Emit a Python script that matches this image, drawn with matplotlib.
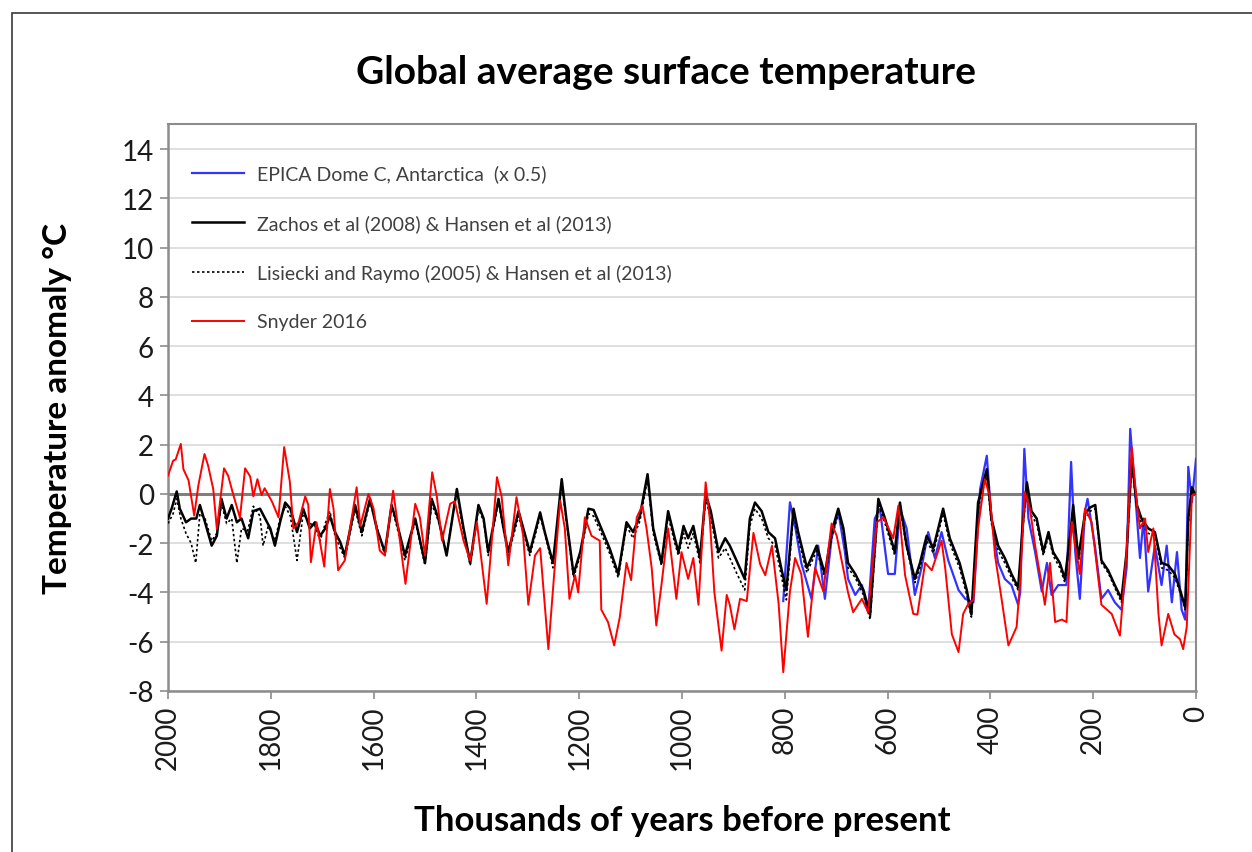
import matplotlib
matplotlib.use("Agg")
import matplotlib.pyplot as plt
from matplotlib.patches import Rectangle

plt.rcParams['font.family'] = ['Lato', 'DejaVu Sans']

# ---------------- data (kyr before present, temperature anomaly °C) ----------------
snyder_age = [2000, 1990, 1985, 1975, 1970, 1960, 1949, 1941, 1929, 1922, 1912, 1905, 1891, 1883,
              1873, 1860, 1850, 1840, 1834, 1826, 1818, 1812, 1798, 1785, 1774, 1763, 1756, 1746,
              1733, 1727, 1722, 1711, 1696, 1685, 1678, 1669, 1656, 1633, 1626, 1610, 1600, 1588,
              1578, 1562, 1552, 1538, 1519, 1510, 1500, 1486, 1477, 1467, 1451, 1442, 1425, 1412,
              1399, 1380, 1360, 1351, 1338, 1322, 1309, 1299, 1286, 1276, 1260, 1247, 1237, 1228,
              1219, 1208, 1202, 1189, 1176, 1160, 1157, 1144, 1132, 1121, 1108, 1099, 1088, 1077,
              1069, 1059, 1050, 1040, 1027, 1011, 1001, 988, 978, 968, 954, 946, 937, 923, 913,
              907, 898, 887, 874, 861, 848, 838, 825, 812, 803, 790, 780, 768, 755, 741, 725, 709,
              699, 677, 667, 650, 638, 621, 608, 589, 579, 566, 550, 542, 527, 514, 495, 488, 475,
              462, 453, 443, 433, 424, 411, 401, 391, 378, 365, 349, 342, 333, 323, 313, 300, 294,
              284, 274, 261, 252, 242, 235, 226, 216, 203, 184, 164, 148, 135, 125, 115, 109, 99,
              93, 83, 73, 67, 54, 42, 31, 25, 18, 8, 2]
snyder_val = [0.74, 1.35, 1.4, 2.03, 1.0, 0.55, -0.88, 0.34, 1.62, 1.15, 0.2, -1.42, 1.04, 0.74,
              -0.03, -0.97, 1.04, 0.7, -0.1, 0.6, -0.05, 0.23, -0.3, -0.95, 1.9, 0.5, -1.4, -1.15,
              -0.1, -0.45, -2.77, -1.15, -2.95, 0.2, -0.6, -3.1, -2.7, 0.27, -1.3, 0.0, -0.6, -2.3,
              -2.5, 0.13, -1.4, -3.65, -0.4, -0.95, -2.5, 0.88, -0.1, -1.9, -0.4, -0.3, -1.9, -2.7,
              -1.15, -4.46, 0.68, -0.1, -2.9, -0.13, -1.7, -4.5, -2.5, -2.2, -6.3, -2.8, -0.27, -1.4,
              -4.26, -3.3, -4.0, -0.95, -1.7, -1.9, -4.7, -5.2, -6.15, -5.0, -2.8, -3.5, -0.95, -0.47,
              -1.4, -3.0, -5.34, -3.7, -1.4, -4.26, -2.36, -3.45, -2.6, -4.5, 0.47, -1.0, -4.0, -6.36, -4.1,
              -4.5, -5.5, -4.26, -4.35, -1.58, -2.85, -3.3, -2.1, -4.46, -7.24, -3.96, -2.6, -3.25, -5.8, -3.0, -3.96, -1.2,
              -1.7, -4.0, -4.8, -4.26, -4.8, -1.15, -0.95, -1.8, -0.47, -3.3, -4.87, -4.9, -2.8, -3.1, -1.9, -3.0, -5.7,
              -6.42, -4.87, -4.46, -4.3, -1.4, 0.6, -0.1, -2.5, -4.3, -6.15, -5.4, -3.5, 0.07, -0.6, -2.1, -3.7, -4.5,
              -2.8, -5.2, -5.1, -5.2, -1.15, -2.1, -3.25, -0.6, -1.15, -4.5, -4.87, -5.75, -2.36, 1.9, -0.4, -1.4, -1.0,
              -2.36, -1.4, -4.87, -6.15, -4.87, -5.7, -5.9, -6.3, -5.4, -0.07, 0.0]

zachos_age = [2000, 1993, 1983, 1977, 1965, 1955, 1945, 1938, 1928, 1915, 1905, 1896, 1886, 1876,
              1866, 1857, 1844, 1834, 1821, 1811, 1801, 1792, 1782, 1772, 1762, 1749, 1737, 1724,
              1714, 1704, 1694, 1685, 1675, 1665, 1656, 1636, 1623, 1607, 1594, 1578, 1565, 1555,
              1539, 1519, 1500, 1487, 1474, 1458, 1438, 1425, 1412, 1396, 1386, 1377, 1357, 1348,
              1338, 1318, 1296, 1276, 1267, 1251, 1234, 1225, 1211, 1198, 1182, 1172, 1157, 1141,
              1124, 1108, 1095, 1082, 1067, 1056, 1040, 1027, 1014, 1007, 997, 988, 978, 965, 954,
              944, 929, 916, 907, 894, 878, 868, 858, 845, 832, 819, 806, 797, 783, 774, 757, 738,
              722, 709, 696, 686, 677, 663, 647, 634, 618, 605, 586, 576, 563, 547, 537, 524, 511,
              492, 479, 460, 446, 437, 424, 407, 398, 385, 372, 359, 346, 336, 329, 320, 310, 297,
              287, 278, 265, 255, 245, 239, 229, 216, 206, 196, 184, 171, 158, 145, 135, 125, 115,
              106, 93, 80, 67, 54, 41, 31, 21, 15, 8, 2]
zachos_val = [-1.0, -0.6, 0.1, -0.6, -1.15, -1.0, -1.0, -0.45, -1.15, -2.1, -1.7, -0.2, -1.0, -0.45,
              -1.15, -1.0, -1.8, -0.7, -0.6, -1.0, -1.4, -2.1, -1.15, -0.35, -0.6, -1.55, -0.6, -1.4,
              -1.15, -1.7, -1.4, -0.9, -1.55, -1.95, -2.5, -0.45, -1.55, -0.2, -1.4, -2.36, -0.45, -1.15,
              -2.5, -1.0, -2.8, -0.2, -1.0, -2.5, 0.2, -1.4, -2.8, -0.45, -1.0, -2.36, -0.2, -1.3,
              -2.36, -0.7, -2.36, -0.75, -1.55, -2.8, 0.6, -1.0, -3.25, -2.36, -0.6, -0.65, -1.4, -2.2,
              -3.25, -1.15, -1.55, -0.9, 0.8, -1.4, -2.8, -0.7, -1.8, -2.36, -1.3, -1.8, -1.3, -2.6, 0.0,
              -0.7, -2.36, -1.8, -2.1, -2.7, -3.45, -1.0, -0.35, -0.7, -1.55, -1.8, -3.1, -3.9, -0.6, -1.55, -3.0, -2.1,
              -3.25, -1.55, -0.6, -1.4, -2.8, -3.25, -3.9, -4.9, -0.2, -1.0, -2.36, -0.35, -2.1, -3.45, -2.8, -1.7, -2.2,
              -0.6, -1.8, -2.8, -3.9, -4.9, -0.35, 1.0, -1.0, -2.1, -2.6, -3.25, -3.8, -1.0, 0.47, -0.7, -1.0, -2.36,
              -1.55, -2.36, -2.8, -3.45, -1.7, -0.45, -2.6, -0.8, -0.55, -0.45, -2.7, -3.1, -3.7, -4.26, -2.36, 1.42, -0.45,
              -1.0, -1.4, -1.55, -2.8, -2.9, -3.25, -3.9, -4.6, -1.0, 0.27, 0.0]

lisiecki_age = [2000, 1990, 1983, 1975, 1965, 1955, 1946, 1938, 1928, 1915, 1905, 1896, 1886, 1876,
                1866, 1857, 1845, 1834, 1821, 1815, 1805, 1792, 1782, 1772, 1762, 1749, 1737, 1724,
                1714, 1704, 1694, 1685, 1675, 1665, 1656, 1636, 1623, 1607, 1594, 1578, 1565, 1555,
                1539, 1519, 1500, 1487, 1474, 1458, 1438, 1425, 1412, 1396, 1386, 1377, 1357, 1348,
                1338, 1318, 1296, 1276, 1267, 1251, 1234, 1225, 1211, 1198, 1182, 1172, 1157, 1141,
                1124, 1108, 1095, 1082, 1067, 1056, 1040, 1027, 1014, 1007, 997, 988, 978, 965, 954,
                944, 929, 916, 907, 894, 878, 868, 858, 845, 832, 819, 806, 797, 783, 774, 757, 738,
                722, 709, 696, 686, 677, 663, 647, 634, 618, 605, 586, 576, 563, 547, 537, 524, 511,
                492, 479, 460, 446, 437, 424, 407, 398, 385, 372, 359, 346, 336, 329, 320, 310, 297,
                287, 278, 265, 255, 245, 239, 229, 216, 206, 196, 184, 171, 158, 145, 135, 125, 115,
                106, 93, 80, 67, 54, 41, 31, 21, 15, 8, 0]
lisiecki_val = [-1.2, -0.8, -0.2, -1.0, -1.6, -2.0, -2.8, -0.8, -1.0, -1.9, -1.6, -0.4, -1.2, -1.0,
                -2.8, -1.4, -1.5, -0.5, -0.9, -2.1, -1.3, -1.9, -1.0, -0.5, -0.9, -2.7, -0.8, -1.2,
                -1.3, -1.9, -1.2, -0.7, -1.7, -2.2, -2.6, -0.6, -1.7, -0.3, -1.3, -2.5, -0.5, -1.3,
                -2.7, -1.1, -2.9, -0.4, -1.1, -2.4, 0.1, -1.6, -2.9, -0.6, -1.1, -2.5, -0.3, -1.4,
                -2.5, -0.9, -2.5, -0.9, -1.6, -3.0, 0.4, -1.1, -3.4, -2.5, -0.8, -0.9, -1.6, -2.4,
                -3.4, -1.3, -1.8, -1.1, 0.6, -1.6, -2.9, -0.9, -2.0, -2.5, -1.6, -2.2, -1.6, -2.8, -0.2,
                -1.0, -2.6, -2.2, -2.6, -3.2, -3.9, -1.3, -0.6, -1.0, -1.8, -2.1, -3.4, -4.3, -0.8, -1.8, -3.2, -2.3,
                -3.4, -1.8, -0.8, -1.5, -3.0, -3.4, -4.1, -5.1, -0.4, -1.2, -2.5, -0.5, -2.2, -3.6, -3.0, -1.9, -2.4,
                -0.8, -2.0, -3.0, -4.1, -5.0, -0.6, 0.8, -1.2, -2.3, -2.8, -3.4, -3.9, -1.2, 0.3, -0.9, -1.2, -2.5,
                -1.7, -2.5, -3.0, -3.6, -1.9, -0.6, -2.8, -1.0, -0.7, -0.6, -2.8, -3.2, -3.8, -4.4, -2.5, 1.2, -0.6,
                -1.2, -1.6, -1.7, -3.0, -3.1, -3.4, -4.0, -4.7, -1.2, 0.1, 0.0]

epica_age = [803, 790, 780, 768, 748, 735, 722, 709, 696, 683, 677, 663, 650, 638, 625, 615, 599,
             586, 576, 563, 547, 534, 521, 508, 495, 482, 462, 449, 433, 420, 407, 398, 385, 372,
             359, 346, 342, 334, 326, 313, 300, 290, 281, 268, 252, 243, 235, 226, 216, 211, 196,
             184, 171, 158, 145, 135, 128, 119, 109, 102, 93, 80, 67, 57, 47, 37, 28, 21, 15, 8, 0]
epica_val = [-4.35, -0.34, -1.3, -2.8, -4.26, -2.1, -4.26, -1.8, -0.7, -2.36, -3.45, -4.1, -3.7,
             -4.8, -1.0, -0.6, -3.25, -3.25, -0.6, -1.4, -4.1, -3.0, -1.55, -2.6, -1.55, -2.7, -3.9,
             -4.26, -4.4, 0.2, 1.55, -1.0, -2.8, -3.45, -3.7, -4.5, -4.0, 1.83, -1.0, -2.36, -3.96,
             -2.8, -4.1, -3.7, -3.7, 1.3, -2.36, -4.26, -0.7, -0.2, -2.2, -4.26, -3.9, -4.4, -4.7,
             -3.0, 2.64, 0.2, -2.6, -1.0, -3.96, -2.1, -3.7, -2.1, -4.4, -2.36, -4.7, -5.1, 1.1,
             -0.34, 1.42]

xticks = [2000, 1800, 1600, 1400, 1200, 1000, 800, 600, 400, 200, 0]
yticks = [-8, -6, -4, -2, 0, 2, 4, 6, 8, 10, 12, 14]

# ---------------- figure ----------------
W, H = 1252, 853
fig = plt.figure(figsize=(W / 100, H / 100), dpi=100)
fig.patch.set_facecolor('white')
fig.patches.append(Rectangle((12 / W, -0.05), 1.1, 1 - 14 / H + 0.05, transform=fig.transFigure,
                             fill=False, edgecolor='#3a3a3a', linewidth=1.2))

ax = fig.add_axes([168 / W, 1 - 692 / H, (1196 - 168) / W, (692 - 125.4) / H])

ax.plot(epica_age, epica_val, color='#3333ff', lw=1.6, label='EPICA Dome C, Antarctica  (x 0.5)', zorder=3)
ax.plot(zachos_age, zachos_val, color='black', lw=1.8, label='Zachos et al (2008) & Hansen et al (2013)', zorder=4)
ax.plot(lisiecki_age, lisiecki_val, color='black', lw=1.2, ls=(0, (1.5, 1.5)),
        label='Lisiecki and Raymo (2005) & Hansen et al (2013)', zorder=4)
ax.plot(snyder_age, snyder_val, color='#ff0000', lw=1.4, label='Snyder 2016', zorder=5)

ax.axhline(0, color='#7f7f7f', lw=2.2, zorder=2)

ax.set_xlim(2000, 0)
ax.set_ylim(-8, 15)
ax.set_xticks(xticks)
ax.set_yticks(yticks)
ax.set_xticklabels([str(t) for t in xticks], rotation=90, fontsize=20, color='#1a1a1a')
ax.set_yticklabels([str(t) for t in yticks], fontsize=20, color='#1a1a1a')
ax.grid(axis='y', color='#d9d9d9', lw=1.2, zorder=0)
ax.set_axisbelow(True)
ax.tick_params(axis='both', direction='out', length=6, width=1.2, color='#8c8c8c', pad=4)

for side in ['left', 'bottom']:
    ax.spines[side].set_color('#8c8c8c')
    ax.spines[side].set_linewidth(1.8)
for side in ['top', 'right']:
    ax.spines[side].set_color('#8c8c8c')
    ax.spines[side].set_linewidth(1.5)

ax.set_xlabel('Thousands of years before present', fontsize=25, fontweight='bold', labelpad=25)
ax.set_ylabel('Temperature anomaly °C', fontsize=24, fontweight='bold', labelpad=36)
fig.text(0.532, 1 - 72 / H, 'Global average surface temperature', ha='center', va='center',
         fontsize=28, fontweight='bold')

leg = ax.legend(loc='upper left', bbox_to_anchor=(0.0156, 0.943), frameon=False, fontsize=14,
                handlelength=2.7, labelspacing=1.63, handletextpad=0.67, borderaxespad=0)
for t in leg.get_texts():
    t.set_color('#404040')

fig.savefig('out.png', dpi=100)
